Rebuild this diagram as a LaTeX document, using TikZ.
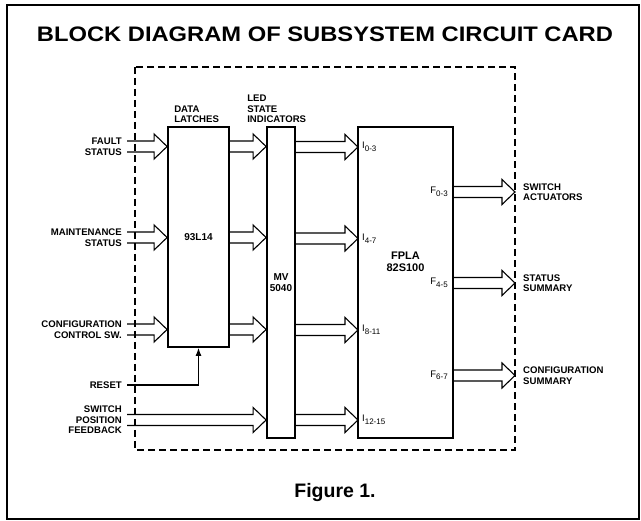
\documentclass[tikz,border=0pt]{standalone}
\usepackage{fontspec}
\setmainfont{Liberation Sans}
\newfontfamily\titlefont[FakeStretch=1.13]{Liberation Sans}
\usepackage{tikz}
\usetikzlibrary{arrows.meta,calc}

% wide bus arrow between two points on one level
\newcommand{\bus}[2]{\draw[busline] ($(#1)+(0,-5.5)$) -- ($(#2)+(-13,-5.5)$) -- ($(#2)+(-13,-12.5)$) -- (#2) -- ($(#2)+(-13,12.5)$) -- ($(#2)+(-13,5.5)$) -- ($(#1)+(0,5.5)$);}
\newcommand{\pinlbl}[2]{#1\raisebox{-2.5pt}{\fontsize{8}{8}\selectfont#2}}

\begin{document}
\begin{tikzpicture}[x=1pt, y=-1pt, >=Latex, line join=miter,
  blk/.style={draw, line width=1.8pt, inner sep=0pt, font=\fontsize{10}{11}\selectfont\bfseries, align=center},
  lbl/.style={font=\fontsize{9.6}{10.5}\selectfont\bfseries, inner sep=0pt},
  inlbl/.style={lbl, anchor=east, align=right, inner xsep=5pt},
  outlbl/.style={lbl, anchor=west, align=left, inner xsep=8pt},
  pin/.style={font=\fontsize{9.5}{10}\selectfont, inner sep=0pt},
  busline/.style={line width=1.1pt},
  cardedge/.style={line width=1.8pt, dash pattern=on 7pt off 4pt}]
\useasboundingbox (0,0) rectangle (641,521);
\draw[line width=1.5pt] (7,5) rectangle (639,519);
\node[font=\titlefont\fontsize{21}{24}\selectfont\bfseries, anchor=base] (title) at (325,41.5) {BLOCK DIAGRAM OF SUBSYSTEM CIRCUIT CARD};
\draw[cardedge] (135,67) rectangle (515,450);

% blocks
\node[blk, minimum width=61pt, minimum height=220pt] (latches) at (198.5,237) {93L14};
\node[blk, minimum width=28pt, minimum height=311pt] (mv) at (281,282.5) {MV\\5040};
\node[blk, minimum width=95pt, minimum height=311pt] (fpla) at (405.5,282.5) {};
\node[font=\fontsize{11}{12}\selectfont\bfseries, align=center] (fplatxt) at (405.5,262) {FPLA\\82S100};
\node[lbl, align=left, anchor=south west] (dl) at ($(latches.north west)+(7,-3)$) {DATA\\LATCHES};
\node[lbl, align=left, anchor=south west] (led) at ($(mv.north west)+(-19,-3)$) {LED\\STATE\\INDICATORS};

% inputs
\node[inlbl] (fault) at (127,146.5) {FAULT\\STATUS};
\node[inlbl] (maint) at (127,237.5) {MAINTENANCE\\STATUS};
\node[inlbl] (config) at (127,329.5) {CONFIGURATION\\CONTROL SW.};
\node[inlbl] (reset) at (127,385) {RESET};
\node[inlbl] (swpos) at (127,420) {SWITCH\\POSITION\\FEEDBACK};

% fpla pins
\node[pin, anchor=west, inner xsep=4pt] (i03) at (358,147) {\pinlbl{I}{0-3}};
\node[pin, anchor=west, inner xsep=4pt] (i47) at (358,238.5) {\pinlbl{I}{4-7}};
\node[pin, anchor=west, inner xsep=4pt] (i811) at (358,330) {\pinlbl{I}{8-11}};
\node[pin, anchor=west, inner xsep=4pt] (i1215) at (358,420) {\pinlbl{I}{12-15}};
\node[pin, anchor=east, inner xsep=5pt] (f03) at (453,192) {\pinlbl{F}{0-3}};
\node[pin, anchor=east, inner xsep=5pt] (f45) at (453,283) {\pinlbl{F}{4-5}};
\node[pin, anchor=east, inner xsep=5pt] (f67) at (453,375.5) {\pinlbl{F}{6-7}};

% outputs
\node[outlbl] (swact) at (515,192) {SWITCH\\ACTUATORS};
\node[outlbl] (stat) at (515,283) {STATUS\\SUMMARY};
\node[outlbl] (cfgsum) at (515,375.5) {CONFIGURATION\\SUMMARY};

% buses
\bus{fault.east}{latches.west |- fault}
\bus{maint.east}{latches.west |- maint}
\bus{config.east}{latches.west |- config}
\bus{latches.east |- fault}{mv.west |- fault}
\bus{latches.east |- maint}{mv.west |- maint}
\bus{latches.east |- config}{mv.west |- config}
\bus{swpos.east}{mv.west |- swpos}
\bus{mv.east |- i03}{i03.west}
\bus{mv.east |- i47}{i47.west}
\bus{mv.east |- i811}{i811.west}
\bus{mv.east |- i1215}{i1215.west}
\bus{f03.east}{swact.west}
\bus{f45.east}{stat.west}
\bus{f67.east}{cfgsum.west}
\draw[busline, -{Latex[length=8pt,width=6pt]}] (reset.east) -| (latches.south);

\node[font=\fontsize{19.5}{20}\selectfont\bfseries, anchor=base] (fig) at (335,498) {Figure 1.};
\end{tikzpicture}
\end{document}
